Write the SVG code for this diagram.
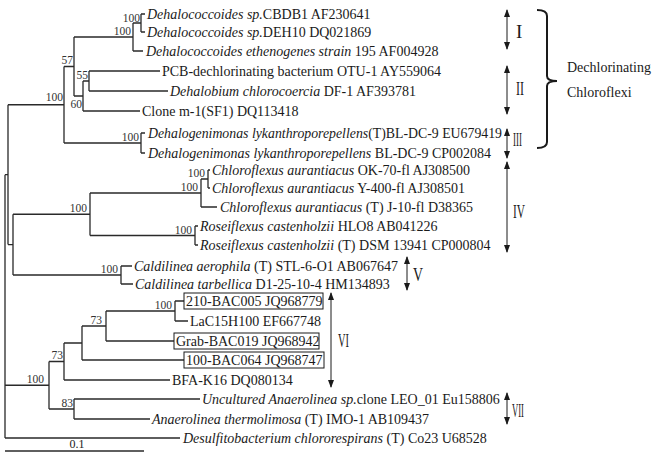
<svg xmlns="http://www.w3.org/2000/svg" width="657" height="457" viewBox="0 0 657 457">
<style>
  .br { fill: none; stroke: #2a2a2a; stroke-width: 1.3; }
  .t { font-family: "Liberation Serif", "Times New Roman", serif; font-size: 14px; fill: #1a1a1a; }
  .i { font-style: italic; }
  .bs { font-family: "Liberation Serif", "Times New Roman", serif; font-size: 11.5px; fill: #333; text-anchor: end; }
  .box { fill: none; stroke: #1a1a1a; stroke-width: 1; }
  .arr { fill: none; stroke: #1a1a1a; stroke-width: 1; marker-start: url(#ah); marker-end: url(#ah); }
  .rn { font-family: "Liberation Serif", "Times New Roman", serif; font-size: 19px; fill: #1a1a1a; }
  .brk { fill: none; stroke: #1a1a1a; stroke-width: 2; }
</style>
<defs>
  <marker id="ah" viewBox="0 0 8 6" refX="7" refY="3" markerWidth="8" markerHeight="6" markerUnits="userSpaceOnUse" orient="auto-start-reverse">
    <path d="M0,0 L8,3 L0,6 z" fill="#1a1a1a"/>
  </marker>
</defs>

<g id="connectors">
  <path class="br" d="M5,174.7 V438 M5,174.7 H8 M5,385.25 H49 M5,438 H180"/>
  <path class="br" d="M8,104.75 V244.6 M8,104.75 H64 M8,244.6 H13"/>
  <path class="br" d="M64,66.5 V143 M64,66.5 H74 M64,143 H141"/>
  <path class="br" d="M74,37 V96 M74,37 H133 M74,96 H83"/>
  <path class="br" d="M133,23 V51 M133,23 H141 M133,51 H143"/>
  <path class="br" d="M141,14 V32 M141,14 H145 M141,32 H145"/>
  <path class="br" d="M83,81 V111 M83,81 H89 M83,111 H140"/>
  <path class="br" d="M89,71 V91 M89,71 H160 M89,91 H168"/>
  <path class="br" d="M141,133 V153 M141,133 H145 M141,153 H145"/>
  <path class="br" d="M13,214.25 V275 M13,214.25 H90 M13,275 H121"/>
  <path class="br" d="M90,193 V235.5 M90,193 H201 M90,235.5 H195"/>
  <path class="br" d="M201,179 V207 M201,179 H208 M201,207 H217"/>
  <path class="br" d="M208,170 V188 M208,170 H210 M208,188 H210"/>
  <path class="br" d="M195,226 V245 M195,226 H198 M195,245 H198"/>
  <path class="br" d="M121,266 V284 M121,266 H132 M121,284 H133"/>
  <path class="br" d="M49,361.5 V409 M49,361.5 H64 M49,409 H74"/>
  <path class="br" d="M64,343 V380 M64,343 H82 M64,380 H170"/>
  <path class="br" d="M82,326 V360 M82,326 H106 M82,360 H184"/>
  <path class="br" d="M106,311 V341 M106,311 H175 M106,341 H174"/>
  <path class="br" d="M175,301 V321 M175,301 H184 M175,321 H188"/>
  <path class="br" d="M74,399 V419 M74,399 H200 M74,419 H150"/>
</g>

<g id="bootstrap">
  <text class="bs" x="140" y="22">100</text>
  <text class="bs" x="131" y="35">100</text>
  <text class="bs" x="73" y="64">57</text>
  <text class="bs" x="88" y="79">55</text>
  <text class="bs" x="82" y="108">60</text>
  <text class="bs" x="63" y="101">100</text>
  <text class="bs" x="139" y="141">100</text>
  <text class="bs" x="205" y="177">100</text>
  <text class="bs" x="198" y="191">100</text>
  <text class="bs" x="87" y="212">100</text>
  <text class="bs" x="192" y="234">100</text>
  <text class="bs" x="118" y="273">100</text>
  <text class="bs" x="172" y="309">100</text>
  <text class="bs" x="102" y="324">73</text>
  <text class="bs" x="63" y="359">73</text>
  <text class="bs" x="44" y="383">100</text>
  <text class="bs" x="73" y="407">83</text>
</g>

<g id="tip-CBDB1"><text class="t" x="147" y="19"><tspan class="i">Dehalococcoides sp.</tspan>CBDB1 AF230641</text></g>
<g id="tip-DEH10"><text class="t" x="147" y="37"><tspan class="i">Dehalococcoides sp.</tspan>DEH10 DQ021869</text></g>
<g id="tip-195"><text class="t" x="146" y="56"><tspan class="i">Dehalococcoides ethenogenes strain</tspan> 195 AF004928</text></g>
<g id="tip-OTU1"><text class="t" x="162" y="76">PCB-dechlorinating bacterium OTU-1 AY559064</text></g>
<g id="tip-DF1"><text class="t" x="170" y="96"><tspan class="i">Dehalobium chlorocoercia</tspan> DF-1 AF393781</text></g>
<g id="tip-m1"><text class="t" x="142" y="116">Clone m-1(SF1) DQ113418</text></g>
<g id="tip-EU679419"><text class="t" x="148" y="138" textLength="354" lengthAdjust="spacingAndGlyphs"><tspan class="i">Dehalogenimonas lykanthroporepellens</tspan>(T)BL-DC-9 EU679419</text></g>
<g id="tip-CP002084"><text class="t" x="148" y="158"><tspan class="i">Dehalogenimonas lykanthroporepellens</tspan> BL-DC-9 CP002084</text></g>
<g id="tip-OK70"><text class="t" x="212" y="175"><tspan class="i">Chloroflexus aurantiacus</tspan> OK-70-fl AJ308500</text></g>
<g id="tip-Y400"><text class="t" x="212" y="193"><tspan class="i">Chloroflexus aurantiacus</tspan> Y-400-fl AJ308501</text></g>
<g id="tip-J10"><text class="t" x="220" y="212"><tspan class="i">Chloroflexus aurantiacus</tspan> (T) J-10-fl D38365</text></g>
<g id="tip-HLO8"><text class="t" x="200" y="231"><tspan class="i">Roseiflexus castenholzii</tspan> HLO8 AB041226</text></g>
<g id="tip-DSM13941"><text class="t" x="200" y="250"><tspan class="i">Roseiflexus castenholzii</tspan> (T) DSM 13941 CP000804</text></g>
<g id="tip-STL6"><text class="t" x="134" y="271"><tspan class="i">Caldilinea aerophila</tspan> (T) STL-6-O1 AB067647</text></g>
<g id="tip-D1"><text class="t" x="135" y="289"><tspan class="i">Caldilinea tarbellica</tspan> D1-25-10-4 HM134893</text></g>
<g id="tip-210BAC005"><rect class="box" x="184" y="293" width="139" height="16"/><text class="t" x="186" y="306">210-BAC005 JQ968779</text></g>
<g id="tip-LaC15H100"><text class="t" x="190" y="326">LaC15H100 EF667748</text></g>
<g id="tip-GrabBAC019"><rect class="box" x="174" y="333" width="145" height="16"/><text class="t" x="176" y="346">Grab-BAC019 JQ968942</text></g>
<g id="tip-100BAC064"><rect class="box" x="184" y="352" width="140" height="16"/><text class="t" x="186" y="365">100-BAC064 JQ968747</text></g>
<g id="tip-BFAK16"><text class="t" x="172" y="385">BFA-K16 DQ080134</text></g>
<g id="tip-LEO01"><text class="t" x="202" y="404"><tspan class="i">Uncultured Anaerolinea sp.</tspan>clone LEO_01 Eu158806</text></g>
<g id="tip-IMO1"><text class="t" x="152" y="424"><tspan class="i">Anaerolinea thermolimosa</tspan> (T) IMO-1 AB109437</text></g>
<g id="tip-Co23"><text class="t" x="183" y="443"><tspan class="i">Desulfitobacterium chlororespirans</tspan> (T) Co23 U68528</text></g>

<g id="scale-bar">
  <path class="br" d="M5,451 H144"/>
  <text class="t" x="77" y="448" text-anchor="middle" style="font-size:12px">0.1</text>
</g>

<g id="clade-I"><path class="arr" d="M507,10 V49"/><text class="rn" x="516" y="38">I</text></g>
<g id="clade-II"><path class="arr" d="M507,66 V114"/><text class="rn" x="516" y="95" textLength="8" lengthAdjust="spacingAndGlyphs">II</text></g>
<g id="clade-III"><path class="arr" d="M507,129 V158"/><text class="rn" x="513" y="146" textLength="9" lengthAdjust="spacingAndGlyphs">III</text></g>
<g id="clade-IV"><path class="arr" d="M507,162 V252"/><text class="rn" x="513" y="218" textLength="12" lengthAdjust="spacingAndGlyphs">IV</text></g>
<g id="clade-V"><path class="arr" d="M407,257 V290"/><text class="rn" x="413" y="281" textLength="10" lengthAdjust="spacingAndGlyphs">V</text></g>
<g id="clade-VI"><path class="arr" d="M331,293 V387"/><text class="rn" x="338" y="347" textLength="11" lengthAdjust="spacingAndGlyphs">VI</text></g>
<g id="clade-VII"><path class="arr" d="M507,393 V424"/><text class="rn" x="512" y="417" textLength="12" lengthAdjust="spacingAndGlyphs">VII</text></g>

<g id="dechlorinating-chloroflexi">
  <path class="brk" d="M537,10 Q547,10 547,16 V76 Q547,81 557,81 Q547,81 547,86 V142 Q547,148 537,148"/>
  <text class="t" x="567" y="72">Dechlorinating</text>
  <text class="t" x="567" y="97">Chloroflexi</text>
</g>
</svg>
